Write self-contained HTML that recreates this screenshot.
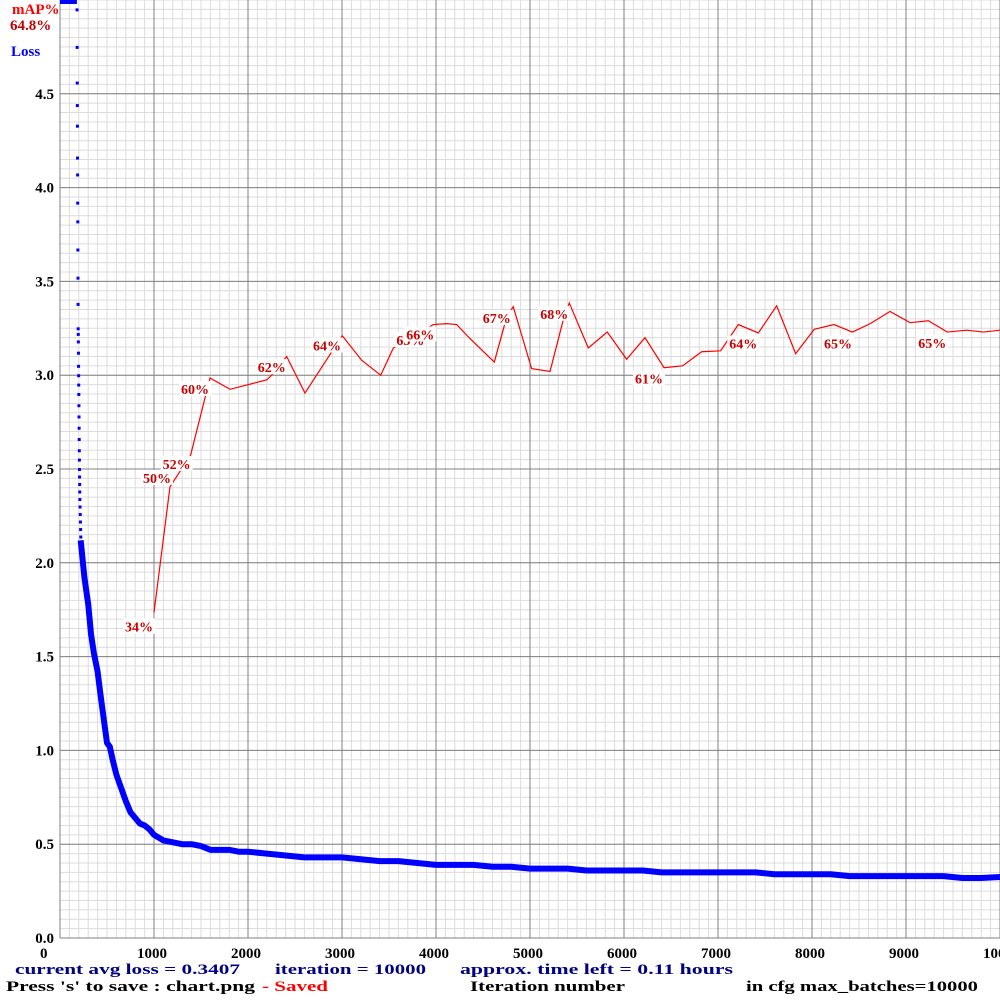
<!DOCTYPE html>
<html><head><meta charset="utf-8"><style>
html,body{margin:0;padding:0;background:#fff;}
svg{display:block;}
text{font-family:"Liberation Serif",serif;font-weight:bold;}
</style></head><body>
<svg id="chart" width="1000" height="1000" viewBox="0 0 1000 1000" xmlns="http://www.w3.org/2000/svg">
<rect width="1000" height="1000" fill="#fff"/>
<g id="grid"></g>
<g id="axes"></g>
<g id="map"></g>
<g id="loss"></g>
<text x="12" y="14" font-size="15" fill="#ff0000">mAP%</text>
<text x="10" y="30" font-size="15" fill="#c00000">64.8%</text>
<text x="11" y="56" font-size="15" fill="#0000ff">Loss</text>
<g fill="#000080" font-size="15">
<text x="15" y="974" textLength="225" lengthAdjust="spacingAndGlyphs">current avg loss = 0.3407</text>
<text x="275" y="974" textLength="151" lengthAdjust="spacingAndGlyphs">iteration = 10000</text>
<text x="460" y="974" textLength="273" lengthAdjust="spacingAndGlyphs">approx. time left = 0.11 hours</text>
</g>
<g fill="#000" font-size="15">
<text x="6" y="991" textLength="249" lengthAdjust="spacingAndGlyphs">Press 's' to save : chart.png</text>
<text x="262" y="991" textLength="66" lengthAdjust="spacingAndGlyphs" fill="#ff0000">- Saved</text>
<text x="470" y="991" textLength="155" lengthAdjust="spacingAndGlyphs">Iteration number</text>
<text x="746" y="991" textLength="232" lengthAdjust="spacingAndGlyphs">in cfg max_batches=10000</text>
</g>
</svg>
<script>
const xTicks=[0,1000,2000,3000,4000,5000,6000,7000,8000,9000,10000];
const yTicks=[0.0,0.5,1.0,1.5,2.0,2.5,3.0,3.5,4.0,4.5];
const earlyIter=[176,177,178,179,180,181,182,183,184,185,186,187,188,189,190,191,192,193,194,195,196,197,198,199,200,201,202,203,204,205,206,208,210,212,214,216];
const earlyLoss=[4.95,4.75,4.56,4.44,4.33,4.16,4.07,3.92,3.82,3.67,3.52,3.38,3.25,3.22,3.18,3.12,3.05,3.0,2.95,2.9,2.84,2.78,2.72,2.66,2.6,2.55,2.5,2.46,2.42,2.38,2.34,2.3,2.26,2.22,2.18,2.14];
const lossIter=[220,240,260,280,300,330,360,400,430,470,500,530,560,600,650,700,750,800,850,900,950,1000,1100,1200,1300,1400,1500,1600,1700,1800,1900,2000,2200,2400,2600,2800,3000,3200,3400,3600,3800,4000,4200,4400,4600,4800,5000,5200,5400,5600,5800,6000,6200,6400,6600,6800,7000,7200,7400,7600,7800,8000,8200,8400,8600,8800,9000,9200,9400,9600,9800,10000];
const lossVal=[2.12,2.02,1.92,1.85,1.78,1.62,1.52,1.42,1.3,1.15,1.04,1.02,0.95,0.87,0.8,0.73,0.67,0.64,0.61,0.6,0.58,0.55,0.52,0.51,0.5,0.5,0.49,0.47,0.47,0.47,0.46,0.46,0.45,0.44,0.43,0.43,0.43,0.42,0.41,0.41,0.4,0.39,0.39,0.39,0.38,0.38,0.37,0.37,0.37,0.36,0.36,0.36,0.36,0.35,0.35,0.35,0.35,0.35,0.35,0.34,0.34,0.34,0.34,0.33,0.33,0.33,0.33,0.33,0.33,0.32,0.32,0.325];
const mapIter=[1000,1170,1390,1596,1809,2199,2252,2411,2606,2872,3003,3209,3412,3546,3971,4113,4220,4362,4620,4752,4822,5017,5213,5354,5418,5620,5822,6028,6223,6426,6624,6826,7028,7216,7429,7624,7826,8024,8234,8429,8620,8830,9043,9238,9439,9645,9822,10000];
const mapVal=[34.7,48.1,51.5,59.7,58.5,59.5,60.0,62.0,58.1,62.2,64.2,61.6,60.0,62.9,65.4,65.5,65.4,63.9,61.4,66.2,67.3,60.7,60.4,65.9,67.7,62.9,64.6,61.7,64.0,60.8,61.0,62.5,62.6,65.4,64.5,67.4,62.3,64.9,65.4,64.6,65.5,66.8,65.6,65.8,64.6,64.8,64.6,64.8];
const mapLabelIdx=[0,1,2,3,6,9,13,14,19,23,29,33,38,44];
const mapLabelText=["34%","50%","52%","60%","62%","64%","65%","66%","67%","68%","61%","64%","65%","65%"];
const labelDx=[-15,-13,-14,-15,0,-3,17,-13,-10,-9,-15,5,4,-15];
const labelDy=[14,-9,9,11,-8,-9,-8,10,1,-6,11,19,19,11];
const NS="http://www.w3.org/2000/svg";
const X0=60,X1=1000,Y0=938,YTOP=0;
const xs=v=>X0+(v/10000)*(X1-X0);
const ys=v=>Y0-(v/5)*(Y0-YTOP);
const ym=m=>Y0-(m/100)*(Y0-YTOP);
function mk(tag,attrs,parent){const e=document.createElementNS(NS,tag);for(const k in attrs)e.setAttribute(k,attrs[k]);parent.appendChild(e);return e;}
const grid=document.getElementById('grid');
for(let i=0;i<=100;i++){const x=xs(i*100);const l=mk('line',{x1:x,x2:x,y1:0,y2:Y0,stroke:'#dcdcdc','stroke-width':1},grid);

}
for(let i=0;i<=100;i++){const y=ys(i*0.05);const l=mk('line',{x1:X0,x2:X1,y1:y,y2:y,stroke:'#dcdcdc','stroke-width':1},grid);

}
const axes=document.getElementById('axes');
xTicks.forEach(t=>{const x=xs(t);const l=mk('line',{x1:x,x2:x,y1:0,y2:Y0,stroke:'#808080','stroke-width':1},axes);


const tx=mk('text',{x:x-(t===0?20:17),y:958,'font-size':15,fill:'#000'},axes);tx.textContent=String(t);

});
yTicks.forEach(t=>{const y=ys(t);const l=mk('line',{x1:X0,x2:X1,y1:y,y2:y,stroke:'#808080','stroke-width':1},axes);


const tx=mk('text',{x:54,y:y+5,'font-size':15,fill:'#000','text-anchor':'end'},axes);tx.textContent=t.toFixed(1);

});
const ax=mk('line',{x1:X0,x2:X0,y1:0,y2:Y0,stroke:'#808080','stroke-width':1},axes);


const lg=document.getElementById('loss');
const topBar=mk('line',{x1:X0,x2:xs(180),y1:2,y2:2,stroke:'#0000ff','stroke-width':4},lg);


earlyIter.forEach((it,i)=>{const c=mk('rect',{x:xs(it)-1,y:ys(earlyLoss[i])-1,width:3,height:3,fill:'#0000ff'},lg);

});
const pl=mk('polyline',{points:lossIter.map((it,i)=>xs(it)+','+ys(lossVal[i])).join(' '),fill:'none',stroke:'#0000ff','stroke-width':6,'stroke-linejoin':'round'},lg);


const mg=document.getElementById('map');
const mp=mk('polyline',{points:mapIter.map((it,i)=>xs(it)+','+ym(mapVal[i])).join(' '),fill:'none',stroke:'#ff0000','stroke-width':1.2},mg);


mapLabelIdx.forEach((idx,i)=>{const cx=xs(mapIter[idx])+labelDx[i],cy=ym(mapVal[idx])+labelDy[i];
const b=mk('rect',{x:cx-16,y:cy-8,width:32,height:15,fill:'#fff'},mg);


const t=mk('text',{x:cx,y:cy+5,'font-size':14,fill:'#cc0000','text-anchor':'middle'},mg);t.textContent=mapLabelText[i];

});
</script>
</body></html>
